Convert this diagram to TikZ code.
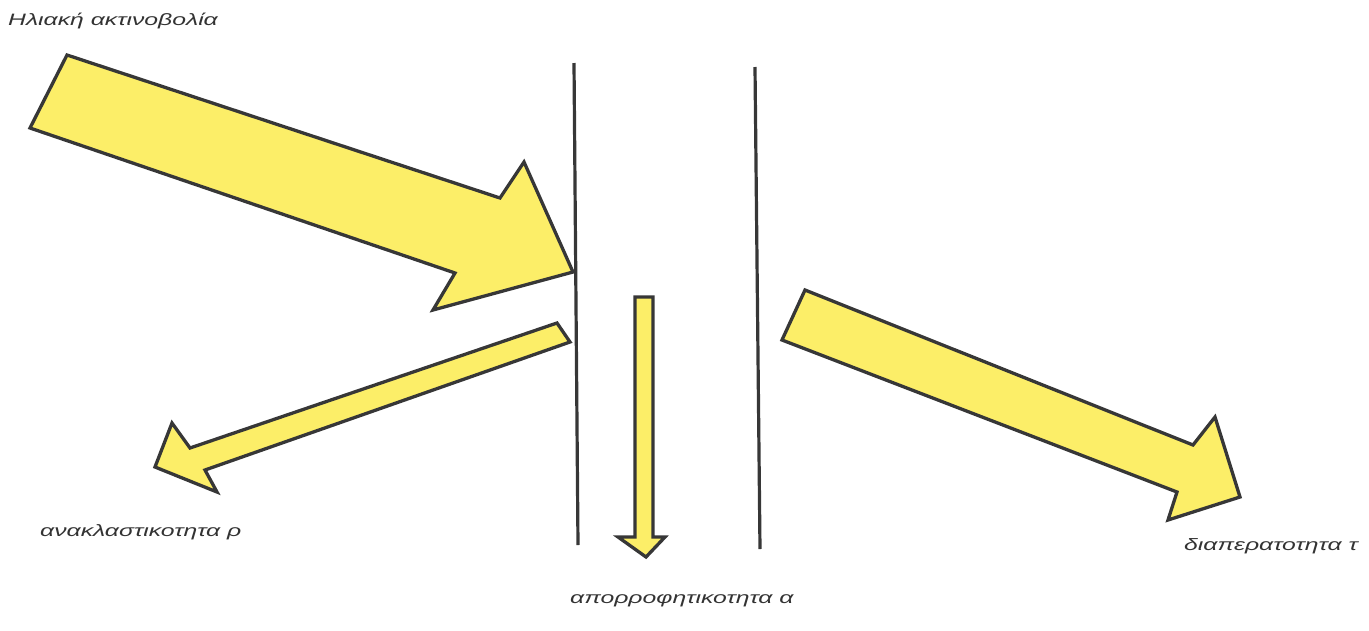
\documentclass[tikz,border=0pt]{standalone}
\usepackage{fontspec}
\newfontfamily\beamfont[FakeStretch=1.5]{Liberation Sans}
\usetikzlibrary{positioning}
\definecolor{beamcolor}{RGB}{252,238,104}
\definecolor{edgecolor}{RGB}{55,55,55}

\begin{document}
\begin{tikzpicture}[
    x=1pt, y=-1pt,
    beam/.style={fill=beamcolor, draw=edgecolor, line width=3.3pt, line join=miter},
    wall/.style={draw=edgecolor, line width=3.2pt},
    caption/.style={anchor=west, inner sep=0pt, font=\beamfont\itshape\fontsize{16.5}{18}\selectfont, text=black!80}
]
    \useasboundingbox (0,0) rectangle (1369,630);

    % Glazing (two panes)
    \coordinate (innertop) at (574,63);
    \coordinate (innerbot) at (578,545);
    \coordinate (outertop) at (755,67);
    \coordinate (outerbot) at (760,549);
    \draw[wall] (innertop) -- (innerbot);
    \draw[wall] (outertop) -- (outerbot);

    % Incoming solar radiation
    \draw[beam] (67,55) -- (500,198) -- (524,162) -- (573,272) -- (433,310) -- (455,273) -- (30,128) -- cycle;

    % Reflected part
    \draw[beam] (557,323) -- (190,448) -- (172,423) -- (155,467) -- (217,492) -- (205,470) -- (570,342) -- cycle;

    % Absorbed part
    \draw[beam] (635,297) -- (653,297) -- (653,537) -- (665,537) -- (646,557) -- (618,537) -- (635,537) -- cycle;

    % Transmitted part
    \draw[beam] (805,290) -- (1193,445) -- (1215,417) -- (1240,497) -- (1168,520) -- (1177,492) -- (782,340) -- cycle;

    % Labels
    \node[caption] (solar) at (8,21) {Ηλιακή ακτινοβολία};
    \node[caption] (refl) at (40,532) {ανακλαστικοτητα ρ};
    \node[caption] (absorb) at (570,601) {απορροφητικοτητα α};
    \node[caption] (trans) at (1184,546) {διαπερατοτητα τ};

\end{tikzpicture}
\end{document}
